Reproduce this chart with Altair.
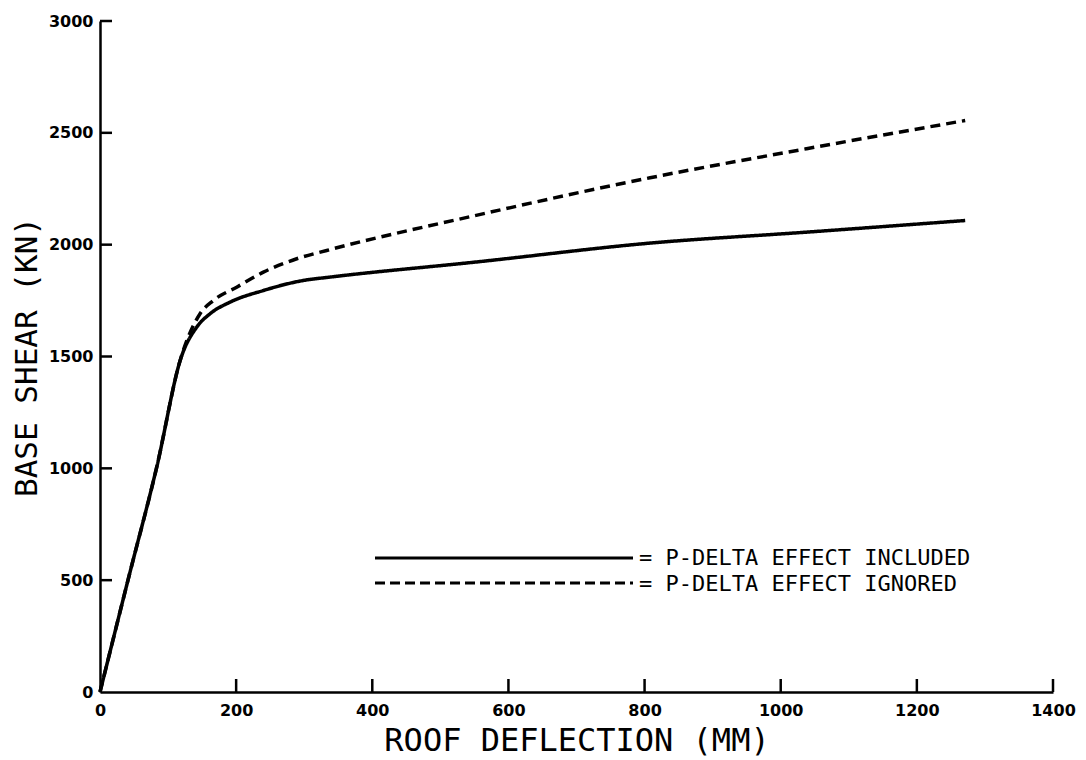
import altair as alt
import pandas as pd

# ---- data ----
series_names = ["P-DELTA EFFECT INCLUDED", "P-DELTA EFFECT IGNORED"]
x_included = [0, 41.6, 83.3, 120, 142, 161.6, 191, 240, 298.7, 338, 551, 808, 1038, 1271]
y_included = [0, 506, 1005, 1503, 1631, 1691, 1743, 1795, 1840, 1855, 1922, 2007, 2056, 2108]
x_ignored = [0, 41.6, 83.3, 117.5, 147, 166.4, 200.8, 240, 289, 333, 551, 808, 1038, 1271]
y_ignored = [0, 506, 1005, 1480, 1691, 1750, 1810, 1877, 1937, 1974, 2130, 2299, 2429, 2555]
x_ticks = [0, 200, 400, 600, 800, 1000, 1200, 1400]
y_ticks = [0, 500, 1000, 1500, 2000, 2500, 3000]
legend_labels = ["= P-DELTA EFFECT INCLUDED", "= P-DELTA EFFECT IGNORED"]

W, H = 953, 671

df = pd.concat([
    pd.DataFrame({"x": x_included, "y": y_included, "series": series_names[0], "order": range(len(x_included))}),
    pd.DataFrame({"x": x_ignored, "y": y_ignored, "series": series_names[1], "order": range(len(x_ignored))}),
])

x_scale = alt.Scale(domain=[0, 1400], nice=False, zero=False)
y_scale = alt.Scale(domain=[0, 3000], nice=False, zero=False)

x_axis = alt.Axis(
    values=x_ticks, format="d", title="ROOF DEFLECTION (MM)", grid=False, ticks=False, tickSize=0,
    domainColor="black", domainWidth=2.5,
    labelFont="DejaVu Sans", labelFontWeight="bold", labelFontSize=16, labelColor="black",
    labelBaseline="alphabetic", labelPadding=23, labelFlush=False, labelOverlap=False,
    titleFont="DejaVu Sans Mono", titleFontSize=32, titleFontWeight="normal", titleColor="black",
    titleX=W / 2, titleY=58, titleBaseline="alphabetic", titleAlign="center",
)
y_axis = alt.Axis(
    values=y_ticks, format="d", title="BASE SHEAR (KN)", grid=False, ticks=False, tickSize=0,
    domainColor="black", domainWidth=2.5,
    labelFont="DejaVu Sans", labelFontWeight="bold", labelFontSize=16, labelColor="black",
    labelAlign="right", labelBaseline="middle", labelPadding=7, labelFlush=False, labelOverlap=False,
    titleFont="DejaVu Sans Mono", titleFontSize=31, titleFontWeight="normal", titleColor="black",
    titleX=-64, titleY=H / 2, titleAngle=-90, titleBaseline="alphabetic", titleAlign="center",
)

lines = alt.Chart(df).mark_line(color="black", strokeWidth=3.5, interpolate="monotone").encode(
    x=alt.X("x:Q", scale=x_scale, axis=x_axis),
    y=alt.Y("y:Q", scale=y_scale, axis=y_axis),
    strokeDash=alt.StrokeDash("series:N", scale=alt.Scale(domain=series_names, range=[[1, 0], [10, 6]]), legend=None),
    order="order:Q",
)

xt = alt.Chart(pd.DataFrame({"x": x_ticks[1:]})).mark_rule(color="black", strokeWidth=2.5).encode(
    x=alt.X("x:Q", scale=x_scale, axis=x_axis),
    y=alt.value(H), y2=alt.value(H - 13),
)
yt = alt.Chart(pd.DataFrame({"y": y_ticks[1:]})).mark_rule(color="black", strokeWidth=2.5).encode(
    y=alt.Y("y:Q", scale=y_scale, axis=y_axis),
    x=alt.value(0), x2=alt.value(12),
)

one = pd.DataFrame({"a": [0]})
leg_solid = alt.Chart(one).mark_rule(color="black", strokeWidth=3).encode(
    x=alt.value(275), x2=alt.value(533), y=alt.value(537))
leg_dash = alt.Chart(one).mark_rule(color="black", strokeWidth=3, strokeDash=[10, 5]).encode(
    x=alt.value(275), x2=alt.value(533), y=alt.value(562))
leg_t1 = alt.Chart(one).mark_text(font="DejaVu Sans Mono", fontSize=22, align="left", baseline="alphabetic",
                                  color="black").encode(x=alt.value(539), y=alt.value(544),
                                                        text=alt.value(legend_labels[0]))
leg_t2 = alt.Chart(one).mark_text(font="DejaVu Sans Mono", fontSize=22, align="left", baseline="alphabetic",
                                  color="black").encode(x=alt.value(539), y=alt.value(570),
                                                        text=alt.value(legend_labels[1]))

chart = alt.layer(lines, xt, yt, leg_solid, leg_dash, leg_t1, leg_t2).properties(
    width=W, height=H,
    autosize=alt.AutoSizeParams(type="none"),
    padding={"left": 92, "top": 13, "right": 25, "bottom": 66},
    background="white",
).configure_view(stroke=None)

chart.save("out.html", embed_options={"renderer": "svg", "actions": False})
